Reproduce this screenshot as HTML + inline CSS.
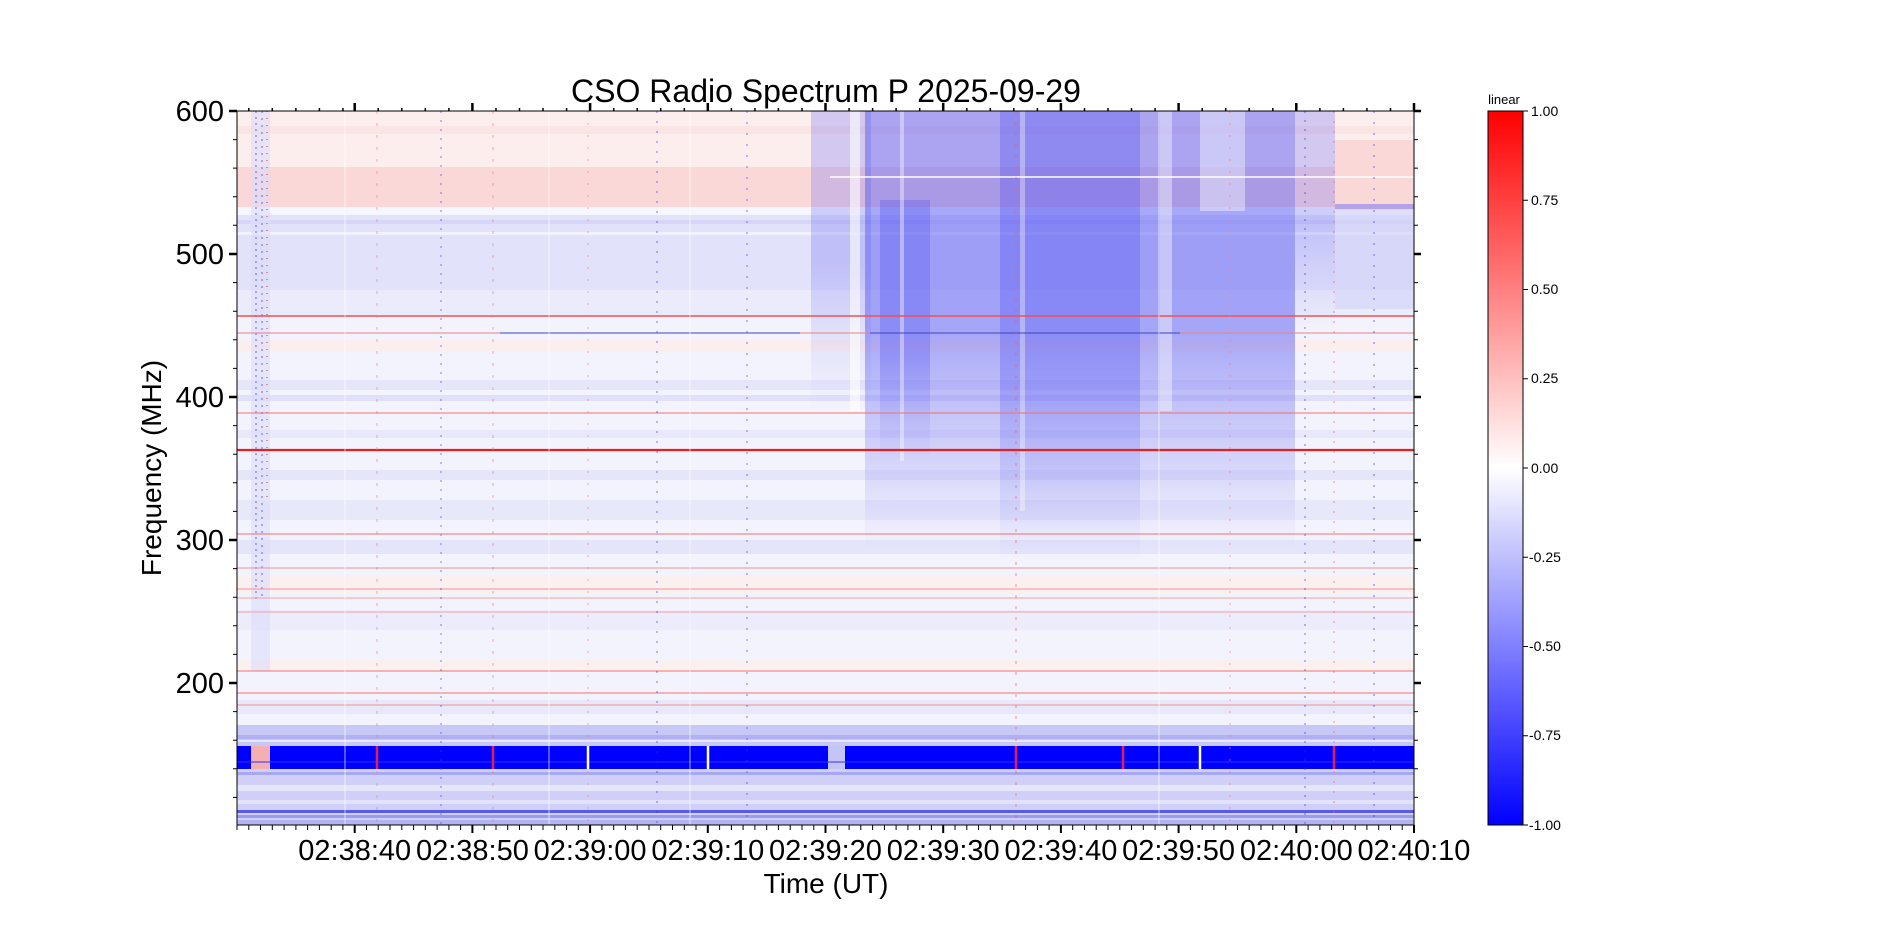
<!DOCTYPE html>
<html><head><meta charset="utf-8"><style>
html,body{margin:0;padding:0;background:#fff;}
svg{display:block;font-family:"Liberation Sans",sans-serif;}
</style></head><body>
<svg width="1898" height="927" viewBox="0 0 1898 927" xmlns="http://www.w3.org/2000/svg">
<defs>
<clipPath id="pc"><rect x="237" y="111" width="1177" height="714"/></clipPath>
<linearGradient id="cb" x1="0" y1="0" x2="0" y2="1">
<stop offset="0" stop-color="#ff0000"/><stop offset="0.5" stop-color="#ffffff"/><stop offset="1" stop-color="#0000ff"/>
</linearGradient>
<linearGradient id="plume" x1="0" y1="0" x2="0" y2="1">
<stop offset="0" stop-color="#5a5af2" stop-opacity="0.5"/>
<stop offset="0.5" stop-color="#5a5af2" stop-opacity="0.5"/>
<stop offset="0.8" stop-color="#7a7af0" stop-opacity="0.25"/>
<stop offset="1" stop-color="#9090f0" stop-opacity="0"/>
</linearGradient>
<linearGradient id="plume2" x1="0" y1="0" x2="0" y2="1">
<stop offset="0" stop-color="#7070f2" stop-opacity="0.3"/>
<stop offset="0.5" stop-color="#7070f2" stop-opacity="0.3"/>
<stop offset="1" stop-color="#8a8af2" stop-opacity="0"/>
</linearGradient>
<linearGradient id="core" x1="0" y1="0" x2="0" y2="1">
<stop offset="0" stop-color="#3a3af2" stop-opacity="0.25"/>
<stop offset="0.6" stop-color="#3a3af2" stop-opacity="0.25"/>
<stop offset="1" stop-color="#3a3af2" stop-opacity="0"/>
</linearGradient>
</defs>
<g clip-path="url(#pc)">
<rect x="237" y="111" width="1177" height="714" fill="#f3f3fd"/>
<rect x="237" y="111" width="1177" height="56" fill="#fdeeee"/>
<rect x="237" y="126" width="1177" height="8" fill="#fbe4e4"/>
<rect x="237" y="167" width="1177" height="40" fill="#fbd8d8"/>
<rect x="237" y="207" width="1177" height="8" fill="#f6f6fe"/>
<rect x="237" y="215" width="1177" height="100" fill="#e2e2fb"/>
<rect x="237" y="220" width="1177" height="4" fill="#d6d6f8"/>
<rect x="237" y="232" width="1177" height="3" fill="#f2f2fe"/>
<rect x="237" y="290" width="1177" height="25" fill="#ebebfc"/>
<rect x="237" y="340" width="1177" height="12" fill="#fbeeee"/>
<rect x="237" y="380" width="1177" height="10" fill="#e6e6fa"/>
<rect x="237" y="395" width="1177" height="6" fill="#e0e0fa"/>
<rect x="237" y="430" width="1177" height="8" fill="#e8e8fb"/>
<rect x="237" y="470" width="1177" height="10" fill="#e6e6fa"/>
<rect x="237" y="500" width="1177" height="20" fill="#e8e8fb"/>
<rect x="237" y="540" width="1177" height="14" fill="#e4e4fa"/>
<rect x="237" y="575" width="1177" height="18" fill="#fbf0f0"/>
<rect x="237" y="610" width="1177" height="20" fill="#ececfc"/>
<rect x="237" y="660" width="1177" height="12" fill="#fbf0f0"/>
<rect x="237" y="700" width="1177" height="14" fill="#e8e8fb"/>
<rect x="237" y="725" width="1177" height="21" fill="#c8c8f6"/>
<rect x="237" y="735" width="1177" height="4" fill="#b0b0f2"/>
<rect x="237" y="746" width="1177" height="23" fill="#0000ff"/>
<rect x="251" y="746" width="19" height="23" fill="#f4b0b0"/>
<rect x="828" y="746" width="17" height="23" fill="#c4c4f6"/>
<rect x="237" y="769" width="1177" height="56" fill="#cfcff7"/>
<rect x="237" y="772" width="1177" height="3" fill="#a8a8f0"/>
<rect x="237" y="785" width="1177" height="6" fill="#e6e6fb"/>
<rect x="237" y="800" width="1177" height="4" fill="#e2e2fa"/>
<rect x="237" y="810" width="1177" height="3" fill="#5a5ae8"/>
<rect x="237" y="815" width="1177" height="3" fill="#9a9aee"/>
<rect x="237" y="820" width="1177" height="5" fill="#b4b4f2"/>
<!-- plume -->
<rect x="811" y="111" width="60" height="300" fill="url(#plume2)"/>
<rect x="865" y="111" width="430" height="440" fill="url(#plume)"/>
<rect x="1000" y="111" width="140" height="450" fill="url(#core)"/>
<rect x="880" y="200" width="50" height="260" fill="url(#core)"/>
<rect x="1295" y="111" width="40" height="220" fill="url(#plume2)"/>
<rect x="1335" y="140" width="79" height="70" fill="#fbd8d8"/>
<rect x="1335" y="204" width="79" height="5" fill="#8080f0" opacity="0.6"/>
<rect x="1335" y="209" width="79" height="100" fill="#d0d0f8" opacity="0.6"/>
<rect x="850" y="111" width="10" height="300" fill="#ffffff" opacity="0.6"/>
<rect x="900" y="111" width="4" height="350" fill="#ffffff" opacity="0.4"/>
<rect x="1020" y="111" width="5" height="400" fill="#ffffff" opacity="0.35"/>
<rect x="1160" y="111" width="12" height="300" fill="#ffffff" opacity="0.4"/>
<rect x="1200" y="111" width="45" height="100" fill="#ffffff" opacity="0.4"/>
<rect x="251" y="111" width="19" height="560" fill="#dcdcfa" opacity="0.6"/>
<line x1="256" y1="111" x2="256" y2="600" stroke="#3030f0" stroke-width="1" stroke-dasharray="2 4" opacity="0.7"/>
<line x1="262" y1="111" x2="262" y2="600" stroke="#3030f0" stroke-width="1" stroke-dasharray="2 5" opacity="0.7"/>
<line x1="267" y1="111" x2="267" y2="500" stroke="#e03030" stroke-width="1" stroke-dasharray="1 6"/>
<line x1="830" y1="177" x2="1414" y2="177" stroke="#ffffff" stroke-width="1.5"/>
<line x1="237" y1="316" x2="1414" y2="316" stroke="#ee5050" stroke-width="1.5"/>
<line x1="237" y1="333" x2="1414" y2="333" stroke="#e88080" stroke-width="1"/>
<line x1="500" y1="333" x2="800" y2="333" stroke="#4040c0" stroke-width="1"/>
<line x1="870" y1="333" x2="1180" y2="333" stroke="#4040c0" stroke-width="1"/>
<line x1="237" y1="413" x2="1414" y2="413" stroke="#f07070" stroke-width="1"/>
<line x1="237" y1="450" x2="1414" y2="450" stroke="#e62020" stroke-width="2.2"/>
<line x1="237" y1="534" x2="1414" y2="534" stroke="#f07070" stroke-width="1"/>
<line x1="237" y1="568" x2="1414" y2="568" stroke="#f49090" stroke-width="1"/>
<line x1="237" y1="589" x2="1414" y2="589" stroke="#f49090" stroke-width="1"/>
<line x1="237" y1="598" x2="1414" y2="598" stroke="#f4a0a0" stroke-width="1"/>
<line x1="237" y1="612" x2="1414" y2="612" stroke="#f4a0a0" stroke-width="1"/>
<line x1="237" y1="671" x2="1414" y2="671" stroke="#f07070" stroke-width="1"/>
<line x1="237" y1="693" x2="1414" y2="693" stroke="#f07070" stroke-width="1"/>
<line x1="237" y1="705" x2="1414" y2="705" stroke="#f49090" stroke-width="1"/>
<line x1="237" y1="741" x2="1414" y2="741" stroke="#ffffff" stroke-width="1"/>
<line x1="237" y1="762" x2="1414" y2="762" stroke="#3030ff" stroke-width="1"/>
<g stroke-width="1.2" opacity="0.55">
<line x1="345" y1="111" x2="345" y2="825" stroke="#ffffff"/>
<line x1="377" y1="111" x2="377" y2="825" stroke="#f08080" stroke-dasharray="3 9"/>
<line x1="441" y1="111" x2="441" y2="825" stroke="#4040f0" stroke-dasharray="2 7"/>
<line x1="493" y1="111" x2="493" y2="825" stroke="#f08080" stroke-dasharray="3 9"/>
<line x1="549" y1="111" x2="549" y2="825" stroke="#ffffff"/>
<line x1="588" y1="111" x2="588" y2="825" stroke="#f08080" stroke-dasharray="2 10"/>
<line x1="657" y1="111" x2="657" y2="825" stroke="#3030f0" stroke-dasharray="2 8"/>
<line x1="690" y1="111" x2="690" y2="825" stroke="#ffffff"/>
<line x1="747" y1="111" x2="747" y2="825" stroke="#4040f0" stroke-dasharray="2 9"/>
<line x1="1016" y1="111" x2="1016" y2="825" stroke="#f06060" stroke-dasharray="3 8"/>
<line x1="1159" y1="111" x2="1159" y2="825" stroke="#ffffff"/>
<line x1="1230" y1="111" x2="1230" y2="825" stroke="#f08080" stroke-dasharray="2 10"/>
<line x1="1305" y1="111" x2="1305" y2="825" stroke="#3030f0" stroke-dasharray="2 7"/>
<line x1="1334" y1="111" x2="1334" y2="825" stroke="#f06060" stroke-dasharray="2 8"/>
<line x1="1374" y1="111" x2="1374" y2="825" stroke="#3030f0" stroke-dasharray="2 9"/>
</g>
<g stroke-width="2.5">
<line x1="377" y1="746" x2="377" y2="769" stroke="#e02050"/>
<line x1="493" y1="746" x2="493" y2="769" stroke="#e02050"/>
<line x1="588" y1="746" x2="588" y2="769" stroke="#ffffff"/>
<line x1="1016" y1="746" x2="1016" y2="769" stroke="#e02050"/>
<line x1="1334" y1="746" x2="1334" y2="769" stroke="#e02050"/>
<line x1="708" y1="746" x2="708" y2="769" stroke="#ffffff"/>
<line x1="1123" y1="746" x2="1123" y2="769" stroke="#e02050"/>
<line x1="1200" y1="746" x2="1200" y2="769" stroke="#ffffff"/>
</g>
</g>
<rect x="237" y="111" width="1177" height="714" fill="none" stroke="#000" stroke-width="1"/>
<g stroke="#000">
<path d="M237 825v5M248.8 825v5M260.5 825v5M272.3 825v5M284.1 825v5M295.9 825v5M307.6 825v5M319.4 825v5M331.2 825v5M342.9 825v5M366.5 825v5M378.2 825v5M390 825v5M401.8 825v5M413.6 825v5M425.3 825v5M437.1 825v5M448.9 825v5M460.6 825v5M484.2 825v5M496 825v5M507.7 825v5M519.5 825v5M531.3 825v5M543 825v5M554.8 825v5M566.6 825v5M578.3 825v5M601.9 825v5M613.7 825v5M625.4 825v5M637.2 825v5M649 825v5M660.7 825v5M672.5 825v5M684.3 825v5M696 825v5M719.6 825v5M731.4 825v5M743.1 825v5M754.9 825v5M766.7 825v5M778.4 825v5M790.2 825v5M802 825v5M813.8 825v5M837.3 825v5M849.1 825v5M860.8 825v5M872.6 825v5M884.4 825v5M896.1 825v5M907.9 825v5M919.7 825v5M931.4 825v5M955 825v5M966.8 825v5M978.5 825v5M990.3 825v5M1002.1 825v5M1013.8 825v5M1025.6 825v5M1037.4 825v5M1049.1 825v5M1072.7 825v5M1084.5 825v5M1096.2 825v5M1108 825v5M1119.8 825v5M1131.5 825v5M1143.3 825v5M1155.1 825v5M1166.8 825v5M1190.4 825v5M1202.2 825v5M1213.9 825v5M1225.7 825v5M1237.5 825v5M1249.2 825v5M1261 825v5M1272.8 825v5M1284.5 825v5M1308.1 825v5M1319.9 825v5M1331.6 825v5M1343.4 825v5M1355.2 825v5M1366.9 825v5M1378.7 825v5M1390.5 825v5M1402.2 825v5" stroke-width="1"/>
<path d="M354.7 825v8M472.4 825v8M590.1 825v8M707.8 825v8M825.5 825v8M943.2 825v8M1060.9 825v8M1178.6 825v8M1296.3 825v8M1414 825v8" stroke-width="2"/>
<path d="M354.7 111v-8M472.4 111v-8M590.1 111v-8M707.8 111v-8M825.5 111v-8M943.2 111v-8M1060.9 111v-8M1178.6 111v-8M1296.3 111v-8M1414 111v-8" stroke-width="2.5"/>
<path d="M248.8 111v-3M272.3 111v-3M295.9 111v-3M319.4 111v-3M342.9 111v-3M378.2 111v-3M401.8 111v-3M425.3 111v-3M448.9 111v-3M496 111v-3M519.5 111v-3M543 111v-3M566.6 111v-3M613.7 111v-3M637.2 111v-3M660.7 111v-3M684.3 111v-3M731.4 111v-3M754.9 111v-3M778.4 111v-3M802 111v-3M849.1 111v-3M872.6 111v-3M896.1 111v-3M919.7 111v-3M966.8 111v-3M990.3 111v-3M1013.8 111v-3M1037.4 111v-3M1084.5 111v-3M1108 111v-3M1131.5 111v-3M1155.1 111v-3M1202.2 111v-3M1225.7 111v-3M1249.2 111v-3M1272.8 111v-3M1319.9 111v-3M1343.4 111v-3M1366.9 111v-3M1390.5 111v-3" stroke-width="1.5"/>
<path d="M237 111h-8M237 254h-8M237 397h-8M237 540h-8M237 683h-8M1414 111h7M1414 254h7M1414 397h7M1414 540h7M1414 683h7" stroke-width="2.5"/>
<path d="M237 139.6h-4M237 168.1h-4M237 196.7h-4M237 225.3h-4M237 282.6h-4M237 311.2h-4M237 339.8h-4M237 368.4h-4M237 425.6h-4M237 454.2h-4M237 482.8h-4M237 511.4h-4M237 568.6h-4M237 597.2h-4M237 625.8h-4M237 654.4h-4M237 711.6h-4M237 740.2h-4M237 768.8h-4M237 797.4h-4M1414 139.6h4M1414 168.1h4M1414 196.7h4M1414 225.3h4M1414 282.6h4M1414 311.2h4M1414 339.8h4M1414 368.4h4M1414 425.6h4M1414 454.2h4M1414 482.8h4M1414 511.4h4M1414 568.6h4M1414 597.2h4M1414 625.8h4M1414 654.4h4M1414 711.6h4M1414 740.2h4M1414 768.8h4M1414 797.4h4" stroke-width="1"/>
</g>
<g font-size="29" fill="#000">
<text x="224" y="121" text-anchor="end">600</text>
<text x="224" y="264" text-anchor="end">500</text>
<text x="224" y="407" text-anchor="end">400</text>
<text x="224" y="550" text-anchor="end">300</text>
<text x="224" y="693" text-anchor="end">200</text>
<g text-anchor="middle">
<text x="354.7" y="860">02:38:40</text>
<text x="472.4" y="860">02:38:50</text>
<text x="590.1" y="860">02:39:00</text>
<text x="707.8" y="860">02:39:10</text>
<text x="825.5" y="860">02:39:20</text>
<text x="943.2" y="860">02:39:30</text>
<text x="1060.9" y="860">02:39:40</text>
<text x="1178.6" y="860">02:39:50</text>
<text x="1296.3" y="860">02:40:00</text>
<text x="1414" y="860">02:40:10</text>
<text x="826" y="893" font-size="28">Time (UT)</text>
<text x="826" y="102" font-size="32">CSO Radio Spectrum P 2025-09-29</text>
</g>
<text transform="translate(161,468) rotate(-90)" text-anchor="middle" font-size="28">Frequency (MHz)</text>
</g>
<rect x="1488" y="111" width="35" height="714" fill="url(#cb)" stroke="#000" stroke-width="1"/>
<g stroke="#000" stroke-width="1">
<path d="M1523 111h5M1523 200.3h5M1523 289.5h5M1523 378.8h5M1523 468h5M1523 557.3h5M1523 646.5h5M1523 735.8h5M1523 825h5"/>
</g>
<g font-size="14" fill="#000">
<text x="1531" y="116">1.00</text>
<text x="1531" y="205">0.75</text>
<text x="1531" y="294">0.50</text>
<text x="1531" y="383">0.25</text>
<text x="1531" y="473">0.00</text>
<text x="1529" y="562">-0.25</text>
<text x="1529" y="651">-0.50</text>
<text x="1529" y="740">-0.75</text>
<text x="1529" y="830">-1.00</text>
<text x="1504" y="104" text-anchor="middle" font-size="13">linear</text>
</g>
</svg>
</body></html>
